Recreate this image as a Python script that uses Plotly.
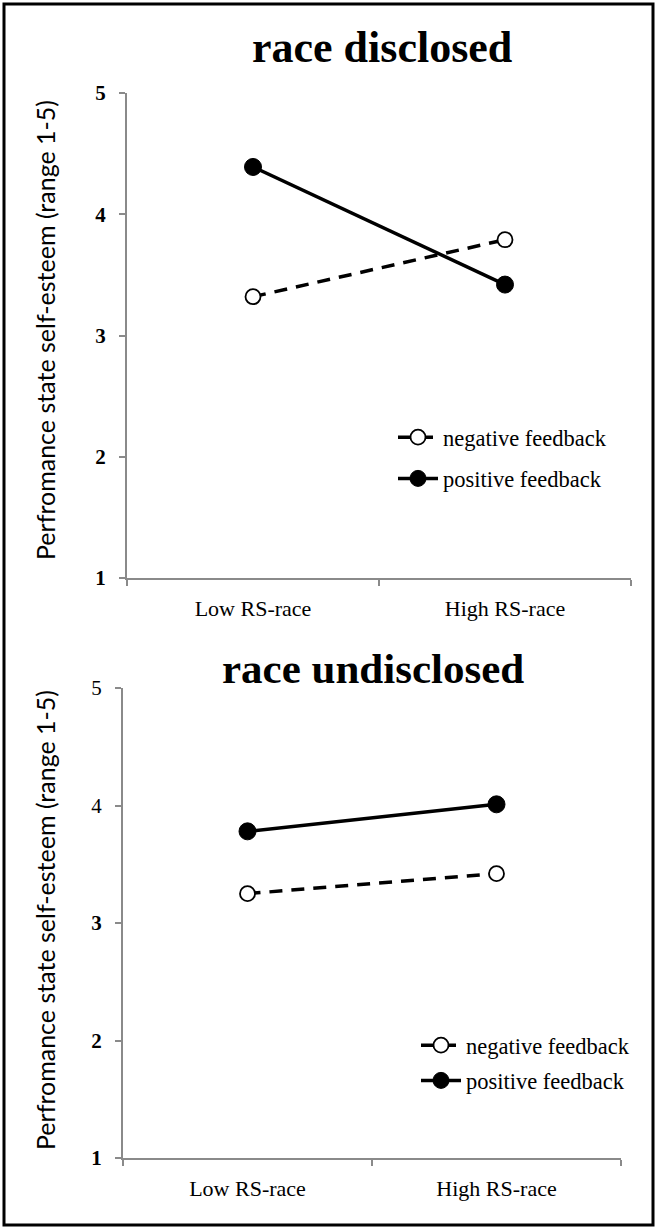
import plotly.graph_objects as go

# ---------------- data ----------------
categories = ["Low RS-race", "High RS-race"]
series_names = ["negative feedback", "positive feedback"]
disclosed_negative = [3.32, 3.79]
disclosed_positive = [4.39, 3.42]
undisclosed_negative = [3.25, 3.42]
undisclosed_positive = [3.78, 4.01]
y_tick_values = [1, 2, 3, 4, 5]
top_tick_text = ["<b>1</b>", "<b>2</b>", "<b>3</b>", "<b>4</b>", "<b>5</b>"]
bottom_tick_text = ["<b>1</b>", "<b>2</b>", "<b>3</b>", "4", "5"]
panel_titles = ["race disclosed", "race undisclosed"]
y_title = "Perfromance state self-esteem (range 1-5)"

# ---------------- layout helpers ----------------
W, H = 657, 1229
def fx(px):
    return px / W
def fy(px):
    return 1 - px / H

SERIF = "Liberation Serif"
SANS = "Lato"
AXIS_GREY = "#8a8a8a"

fig = go.Figure()

def add_panel(neg, pos, xa, ya, legend_name, grp):
    fig.add_trace(go.Scatter(
        x=categories, y=neg, name=series_names[0], xaxis=xa, yaxis=ya,
        mode="lines+markers", legend=legend_name, legendgroup=grp + "neg",
        line=dict(color="black", width=3.5, dash="13px,9px"),
        marker=dict(symbol="circle", size=15, color="white",
                    line=dict(color="black", width=1.8)),
    ))
    fig.add_trace(go.Scatter(
        x=categories, y=pos, name=series_names[1], xaxis=xa, yaxis=ya,
        mode="lines+markers", legend=legend_name, legendgroup=grp + "pos",
        line=dict(color="black", width=3.5),
        marker=dict(symbol="circle", size=17, color="black",
                    line=dict(color="black", width=1)),
    ))

add_panel(disclosed_negative, disclosed_positive, "x", "y", "legend", "top")
add_panel(undisclosed_negative, undisclosed_positive, "x2", "y2", "legend2", "bot")

xaxis_common = dict(
    type="category", range=[-0.5, 1.5], showline=True, linecolor=AXIS_GREY,
    linewidth=2, showgrid=False, zeroline=False, ticks="outside",
    tickson="boundaries", ticklen=6, tickcolor=AXIS_GREY, tickwidth=1.5,
    tickfont=dict(family=SERIF, size=22, color="black"),
    ticklabelstandoff=10, fixedrange=True, automargin=False,
)
yaxis_common = dict(
    range=[1, 5], tickvals=y_tick_values, showline=True, linecolor=AXIS_GREY,
    linewidth=2, showgrid=False, zeroline=False, ticks="outside", ticklen=6,
    tickcolor=AXIS_GREY, tickwidth=1.5, ticklabelstandoff=9,
    tickfont=dict(family=SERIF, size=21, color="black"),
    fixedrange=True, automargin=False,
)

legend_font = dict(family=SERIF, size=22.5, color="black")

fig.update_layout(
    width=W, height=H,
    margin=dict(l=0, r=0, t=0, b=0),
    paper_bgcolor="white", plot_bgcolor="white",
    xaxis=dict(xaxis_common, domain=[fx(127), fx(631)], anchor="y"),
    yaxis=dict(yaxis_common, domain=[fy(578), fy(93)], anchor="x",
               ticktext=top_tick_text),
    xaxis2=dict(xaxis_common, domain=[fx(123), fx(621)], anchor="y2"),
    yaxis2=dict(yaxis_common, domain=[fy(1158), fy(688)], anchor="x2",
                ticktext=bottom_tick_text),
    showlegend=True,
    legend=dict(x=fx(393), y=fy(416), xanchor="left", yanchor="top",
                font=legend_font, bgcolor="rgba(0,0,0,0)",
                tracegroupgap=9, itemwidth=40),
    legend2=dict(x=fx(416), y=fy(1024), xanchor="left", yanchor="top",
                 font=legend_font, bgcolor="rgba(0,0,0,0)",
                 tracegroupgap=3, itemwidth=40),
    shapes=[dict(type="rect", xref="paper", yref="paper",
                 x0=fx(4), x1=fx(653), y0=fy(1225), y1=fy(4),
                 line=dict(color="black", width=3))],
    annotations=[
        dict(text="<b>" + panel_titles[0] + "</b>", x=fx(382), y=fy(47),
             xref="paper", yref="paper", showarrow=False,
             xanchor="center", yanchor="middle",
             font=dict(family=SERIF, size=44, color="black")),
        dict(text="<b>" + panel_titles[1] + "</b>", x=fx(373), y=fy(668),
             xref="paper", yref="paper", showarrow=False,
             xanchor="center", yanchor="middle",
             font=dict(family=SERIF, size=43, color="black")),
        dict(text=y_title, x=fx(45), y=fy(330), xref="paper", yref="paper",
             showarrow=False, textangle=-90, xanchor="center", yanchor="middle",
             font=dict(family=SANS, size=25, color="black")),
        dict(text=y_title, x=fx(45), y=fy(920), xref="paper", yref="paper",
             showarrow=False, textangle=-90, xanchor="center", yanchor="middle",
             font=dict(family=SANS, size=25, color="black")),
    ],
)

fig.write_html("out.html", config={"displayModeBar": False},
               post_script="document.body.style.margin='0px';")
